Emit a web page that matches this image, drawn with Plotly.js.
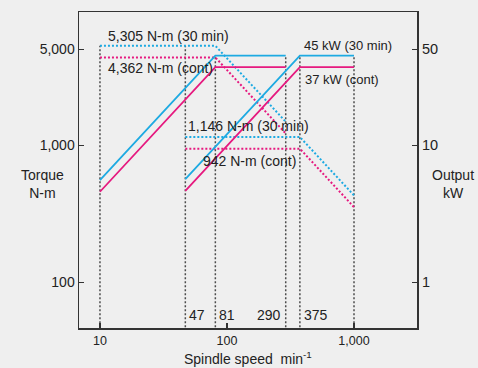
<!DOCTYPE html>
<html>
<head>
<meta charset="utf-8">
<script src="https://cdn.plot.ly/plotly-3.0.1.min.js"></script>
<style>
  html, body { margin: 0; padding: 0; background: #efefef; }
  #chart { width: 478px; height: 368px; }
</style>
</head>
<body>
<div id="chart"></div>
<script>
// Spindle speeds (min^-1)
const lowGearSpeeds  = [10, 81, 290];
const highGearSpeeds = [47, 375, 1000];

// Torque (N-m) along each gear range
const lowTorque30   = [5305, 5305, 1482];
const lowTorqueCont = [4362, 4362, 1218];
const highTorque30   = [1146, 1146, 430];
const highTorqueCont = [942, 942, 353];

// Output (kW) along each gear range
const lowPower30   = [5.56, 45, 45];
const lowPowerCont = [4.57, 37, 37];
const highPower30   = [5.64, 45, 45];
const highPowerCont = [4.64, 37, 37];

// Guide lines: speed and the torque level they rise to
const guideSpeeds = [10, 47, 81, 290, 375, 1000];
const guideTops   = [5305, 5305, 4500, 4500, 4500, 4500];
const speedMarks  = ["47", "81", "290", "375"];
const speedMarkValues = [47, 81, 290, 375];

// Axis ticks
const xTicks = [10, 100, 1000];
const xTickText = ["10", "100", "1,000"];
const torqueTicks = [100, 1000, 5000];
const torqueTickText = ["100", "1,000", "5,000"];
const powerTicks = [1, 10, 50];
const powerTickText = ["1", "10", "50"];

const BLUE = "#1daae2";
const PINK = "#e6197f";
const GREY = "#4d4d4d";
const TEXT = "#222222";
const NARROW = "'Liberation Sans Narrow', 'Arial Narrow', 'Liberation Sans', Arial, sans-serif";
const SANS = "'Liberation Sans', Arial, Helvetica, sans-serif";

const traces = [];

// vertical dotted guides
guideSpeeds.forEach((s, i) => {
  traces.push({
    x: [s, s], y: [10, guideTops[i]], yaxis: "y",
    mode: "lines", hoverinfo: "skip", showlegend: false,
    line: { color: GREY, width: 1.5, dash: "2px,2px" }
  });
});

function torque(x, y, color) {
  return { x: x, y: y, yaxis: "y", mode: "lines", showlegend: false,
    line: { color: color, width: 2, dash: "2px,2px" } };
}
function power(x, y, color) {
  return { x: x, y: y, yaxis: "y2", mode: "lines", showlegend: false,
    line: { color: color, width: 1.8 } };
}

traces.push(torque(lowGearSpeeds, lowTorque30, BLUE));
traces.push(torque(lowGearSpeeds, lowTorqueCont, PINK));
traces.push(torque(highGearSpeeds, highTorque30, BLUE));
traces.push(torque(highGearSpeeds, highTorqueCont, PINK));
traces.push(power(lowGearSpeeds, lowPower30, BLUE));
traces.push(power(lowGearSpeeds, lowPowerCont, PINK));
traces.push(power(highGearSpeeds, highPower30, BLUE));
traces.push(power(highGearSpeeds, highPowerCont, PINK));

const lg = Math.log10;
const torqueFont = { family: NARROW, size: 14, color: TEXT };
const powerFont = { family: NARROW, size: 13, color: TEXT };

const annotations = [
  { x: lg(lowGearSpeeds[0]), y: lg(lowTorque30[0]), xref: "x", yref: "y", font: torqueFont,
    text: "5,305 N-m (30 min)", xanchor: "left", yanchor: "bottom", xshift: 6, yshift: 0 },
  { x: lg(lowGearSpeeds[0]), y: lg(lowTorqueCont[0]), xref: "x", yref: "y", font: torqueFont,
    text: "4,362 N-m (cont)", xanchor: "left", yanchor: "top", xshift: 6, yshift: -1 },
  { x: lg(highGearSpeeds[0]), y: lg(highTorque30[0]), xref: "x", yref: "y", font: torqueFont,
    text: "1,146 N-m (30 min)", xanchor: "left", yanchor: "bottom", xshift: 1, yshift: 1 },
  { x: lg(highGearSpeeds[0]), y: lg(highTorqueCont[0]), xref: "x", yref: "y", font: torqueFont,
    text: "942 N-m (cont)", xanchor: "left", yanchor: "top", xshift: 16, yshift: -2 },
  { x: lg(highGearSpeeds[1]), y: lg(highPower30[1]), xref: "x", yref: "y2", font: powerFont,
    text: "45 kW (30 min)", xanchor: "left", yanchor: "bottom", xshift: 2, yshift: 1 },
  { x: lg(highGearSpeeds[1]), y: lg(highPowerCont[1]), xref: "x", yref: "y2", font: powerFont,
    text: "37 kW (cont)", xanchor: "left", yanchor: "top", xshift: 3, yshift: -3 }
].map(a => Object.assign({ showarrow: false }, a));

speedMarks.forEach((t, i) => {
  const rightSide = t !== "290";
  annotations.push({
    x: lg(speedMarkValues[i]), y: 0, xref: "x", yref: "paper",
    text: t, showarrow: false, font: torqueFont,
    xanchor: rightSide ? "left" : "right", yanchor: "middle",
    xshift: rightSide ? 2 : -3, yshift: 13
  });
});

const titleFont = { family: SANS, size: 14, color: TEXT };
annotations.push(
  { x: -0.109, y: 0.455, xref: "paper", yref: "paper", text: "Torque<br>N-m",
    showarrow: false, font: titleFont, align: "center", xanchor: "center", yanchor: "middle" },
  { x: 1.107, y: 0.455, xref: "paper", yref: "paper", text: "Output<br>kW",
    showarrow: false, font: titleFont, align: "center", xanchor: "center", yanchor: "middle" },
  { x: 0.5, y: 0, xref: "paper", yref: "paper", text: "Spindle speed  min<sup>-1</sup>",
    showarrow: false, font: titleFont, xanchor: "center", yanchor: "middle", yshift: -30 }
);

const layout = {
  width: 478, height: 368,
  margin: { l: 79, r: 61, t: 12, b: 40, pad: 0 },
  paper_bgcolor: "#efefef", plot_bgcolor: "#efefef",
  font: { family: SANS, size: 13, color: TEXT },
  showlegend: false,
  xaxis: {
    type: "log", range: [0.835, 3.496],
    tickvals: xTicks, ticktext: xTickText,
    ticks: "inside", ticklen: 5, tickwidth: 1.2, tickcolor: "#333",
    showgrid: false, zeroline: false,
    showline: true, mirror: true, linecolor: "#333", linewidth: 1.5,
    tickfont: { family: SANS, size: 12.5, color: TEXT }
  },
  yaxis: {
    type: "log", range: [1.666, 3.971],
    tickvals: torqueTicks, ticktext: torqueTickText,
    ticks: "inside", ticklen: 5, tickwidth: 1.2, tickcolor: "#333",
    showgrid: false, zeroline: false,
    showline: true, mirror: true, linecolor: "#333", linewidth: 1.5,
    tickfont: { family: SANS, size: 14, color: TEXT }
  },
  yaxis2: {
    type: "log", range: [-0.334, 1.971], overlaying: "y", side: "right",
    tickvals: powerTicks, ticktext: powerTickText,
    ticks: "inside", ticklen: 5, tickwidth: 1.2, tickcolor: "#333",
    ticklabelstandoff: 4,
    showgrid: false, zeroline: false, showline: false,
    tickfont: { family: SANS, size: 14.5, color: TEXT }
  },
  annotations: annotations
};

Plotly.newPlot("chart", traces, layout, { staticPlot: true, displayModeBar: false });
</script>
</body>
</html>
